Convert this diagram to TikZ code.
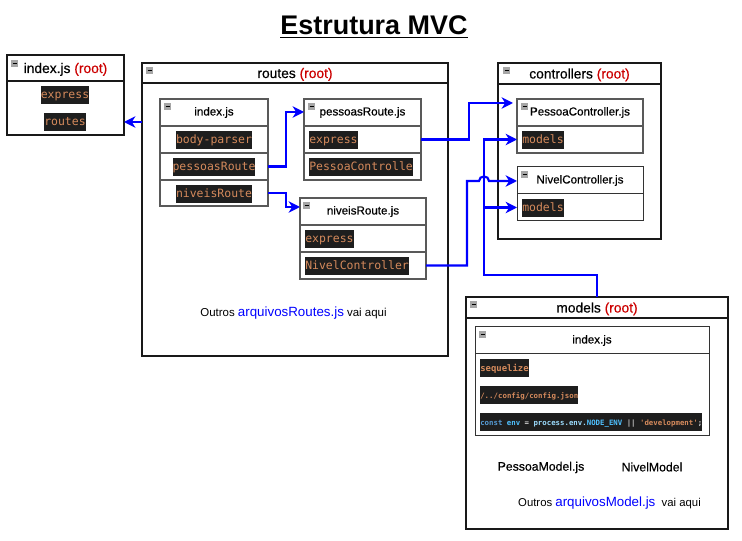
\documentclass[tikz,border=0pt]{standalone}
\usepackage{fontspec}
\setmainfont{Liberation Sans}
\setmonofont{DejaVu Sans Mono}
\newfontfamily\medfont[FakeBold=0.45]{Liberation Sans}
\usetikzlibrary{arrows.meta}
\definecolor{dkbg}{HTML}{1E1E1E}
\definecolor{strg}{HTML}{D58A5C}
\definecolor{kwb}{HTML}{569CD6}
\definecolor{cst}{HTML}{4FC1FF}
\definecolor{vrb}{HTML}{9CDCFE}
\definecolor{opr}{HTML}{D4D4D4}
\definecolor{rootred}{HTML}{CC0000}
\newcommand\bx[7]{%
  \pgfmathsetmacro\bw{(#4-#2)*0.75}\pgfmathsetmacro\bh{(#5-#3)*0.75}%
  \pgfmathsetmacro\bcx{(#4+#2)/2}\pgfmathsetmacro\bcy{(#5+#3)/2}%
  \node[#6,minimum width=\bw pt,minimum height=\bh pt] (#1) at (\bcx,\bcy) {#7};}
\newcommand\ic[2]{%
  \fill[iconfill] (#1,#2) rectangle ++(7,7);
  \draw[icondash] (#1+1.5,#2+3.5) -- ++(4,0);}
\newcommand\rt{\textcolor{rootred}{(root)}}
\tikzset{
  x=0.75pt,y=-0.75pt,
  outerbox/.style={draw=black!90,line width=1.5pt,fill=white,inner sep=0pt,outer sep=0pt},
  innerbox/.style={draw=black!65,line width=0.95pt,fill=white,inner sep=0pt,outer sep=0pt},
  thinbox/.style={draw=black!80,line width=0.75pt,fill=white,inner sep=0pt,outer sep=0pt},
  rootlabel/.style={font=\medfont\fontsize{10.35pt}{12pt}\selectfont,text depth=0pt},
  filelabel/.style={font=\medfont\fontsize{8.7pt}{10pt}\selectfont},
  codelabel/.style={fill=dkbg,text=strg,font=\ttfamily\fontsize{8.6pt}{10pt}\selectfont,inner xsep=0pt,inner ysep=0pt,minimum height=12.8pt,text height=6.8pt,text depth=1.6pt},
  plainlabel/.style={inner sep=0pt},
  iconfill/.style={fill=black!35},
  icondash/.style={draw=black,line width=0.75pt},
  wire/.style={draw=blue,line width=1.6pt},
  arrowwire/.style={wire,-{Stealth[length=8.5pt,width=8.5pt,inset=2.6pt]}},
}
\begin{document}
\begin{tikzpicture}
\useasboundingbox[fill=white] (0,0) rectangle (742,541);

\node[plainlabel,font=\bfseries\fontsize{20.2pt}{24pt}\selectfont] (title) at (374,27) {\underline{Estrutura MVC}};

% index.js (root)
\bx{rih}{7}{55}{124}{81}{outerbox,rootlabel}{index.js \rt}
\bx{rib}{7}{81}{124}{135}{outerbox}{}
\node[codelabel] (riexp) at (65,95) {express};
\node[codelabel] (rirou) at (65,122) {routes};

% routes (root)
\bx{roh}{142}{63}{448}{83}{outerbox,rootlabel}{routes \rt}
\bx{rob}{142}{83}{448}{356}{outerbox}{}

\bx{ixh}{160}{99}{268}{126}{innerbox,filelabel}{index.js}
\bx{ix1}{160}{126}{268}{153}{innerbox}{}
\bx{ix2}{160}{153}{268}{180}{innerbox}{}
\bx{ix3}{160}{180}{268}{206}{innerbox}{}
\node[codelabel] (ixa) at (214,140) {body-parser};
\node[codelabel] (ixb) at (214,167) {pessoasRoute};
\node[codelabel] (ixc) at (214,194) {niveisRoute};

\bx{peh}{304}{99}{421}{126}{innerbox,filelabel}{pessoasRoute.js}
\bx{pe1}{304}{126}{421}{153}{innerbox}{}
\bx{pe2}{304}{153}{421}{180}{innerbox}{}
\node[codelabel,anchor=west] (pea) at (309,140) {express};
\node[codelabel,anchor=west] (peb) at (309,167) {PessoaControlle};

\bx{nih}{300}{198}{426}{225}{innerbox,filelabel}{niveisRoute.js}
\bx{ni1}{300}{225}{426}{252}{innerbox}{}
\bx{ni2}{300}{252}{426}{279}{innerbox}{}
\node[codelabel,anchor=west] (nia) at (305,239) {express};
\node[codelabel,anchor=west] (nib) at (305,266) {NivelController};

\node[plainlabel,font=\fontsize{8.6pt}{11pt}\selectfont] (outr) at (293.5,313) {Outros \textcolor{blue}{\fontsize{10pt}{11pt}\selectfont arquivosRoutes.js} vai aqui};

% controllers (root)
\bx{coh}{498}{63}{661}{84}{outerbox,rootlabel}{controllers \rt}
\bx{cob}{498}{84}{661}{239}{outerbox}{}

\bx{pch}{517}{99}{643}{126}{innerbox,filelabel}{PessoaController.js}
\bx{pc1}{517}{126}{643}{153}{innerbox}{}
\node[codelabel,anchor=west] (pcm) at (522,140) {models};

\bx{nch}{517}{167}{643}{194}{thinbox,filelabel}{NivelController.js}
\bx{nc1}{517}{194}{643}{221}{thinbox}{}
\node[codelabel,anchor=west] (ncm) at (522,208) {models};

% models (root)
\bx{moh}{466}{297}{728}{318}{outerbox,rootlabel}{models \rt}
\bx{mob}{466}{318}{728}{529}{outerbox}{}

\bx{mih}{475}{327}{709}{354}{thinbox,filelabel}{index.js}
\bx{mib}{475}{354}{709}{435}{thinbox}{}
\node[codelabel,anchor=west,font=\ttfamily\bfseries\fontsize{6.7pt}{8pt}\selectfont,minimum height=13.5pt] (mia) at (480,368) {sequelize};
\node[codelabel,anchor=west,font=\ttfamily\bfseries\fontsize{5.55pt}{8pt}\selectfont,minimum height=13.5pt] (mic) at (480,395) {/../config/config.json};
\node[codelabel,anchor=west,font=\ttfamily\bfseries\fontsize{5.53pt}{8pt}\selectfont,minimum height=13.5pt] (mid) at (480,422) {\textcolor{kwb}{const} \textcolor{cst}{env} \textcolor{opr}{=} \textcolor{vrb}{process.env.}\textcolor{cst}{NODE\_ENV} \textcolor{opr}{||} 'development'\textcolor{opr}{;}};

\node[plainlabel,font=\medfont\fontsize{9.2pt}{10pt}\selectfont] (pmo) at (541,467.5) {PessoaModel.js};
\node[plainlabel,font=\medfont\fontsize{9.2pt}{10pt}\selectfont] (nmo) at (652,467) {NivelModel};
\node[plainlabel,font=\fontsize{8.5pt}{11pt}\selectfont] (outm) at (609.5,503.5) {Outros \textcolor{blue}{\fontsize{10pt}{11pt}\selectfont arquivosModel.js}\ \ vai aqui};

% icons
\ic{11}{60}\ic{146}{67}\ic{164}{103}\ic{308}{103}\ic{303}{202}
\ic{503}{67}\ic{521}{103}\ic{521}{171}\ic{470}{301}\ic{479}{331}

% connectors
\coordinate (roin) at (rob.west |- 0,122);
\coordinate (riin) at (rib.east |- 0,122);
\draw[arrowwire] (roin) -- (riin);

\coordinate (pein) at (304,112);
\draw[arrowwire] (ix2.east) -- (286,166.5) -- (286,112) -- (pein);
\coordinate (niin) at (300,207);
\draw[arrowwire] (ix3.east) -- (286,193) -- (286,207) -- (niin);

\coordinate (pcin) at (513,103);
\draw[arrowwire] (pe1.east) -- (469,139.5) -- (469,103) -- (pcin);

\coordinate (ncin) at (517,181);
\draw[arrowwire] (ni2.east) -- (467,265.5) -- (467,181) -- (479,181)
  .. controls (479,175) and (489,175) .. (489,181) -- (ncin);

\coordinate (motop) at (597,297);
\draw[arrowwire] (motop) -- (597,275) -- (484,275) -- (484,139.5) -- (pc1.west);
\draw[arrowwire] (484,207.5) -- (nc1.west);
\end{tikzpicture}
\end{document}
